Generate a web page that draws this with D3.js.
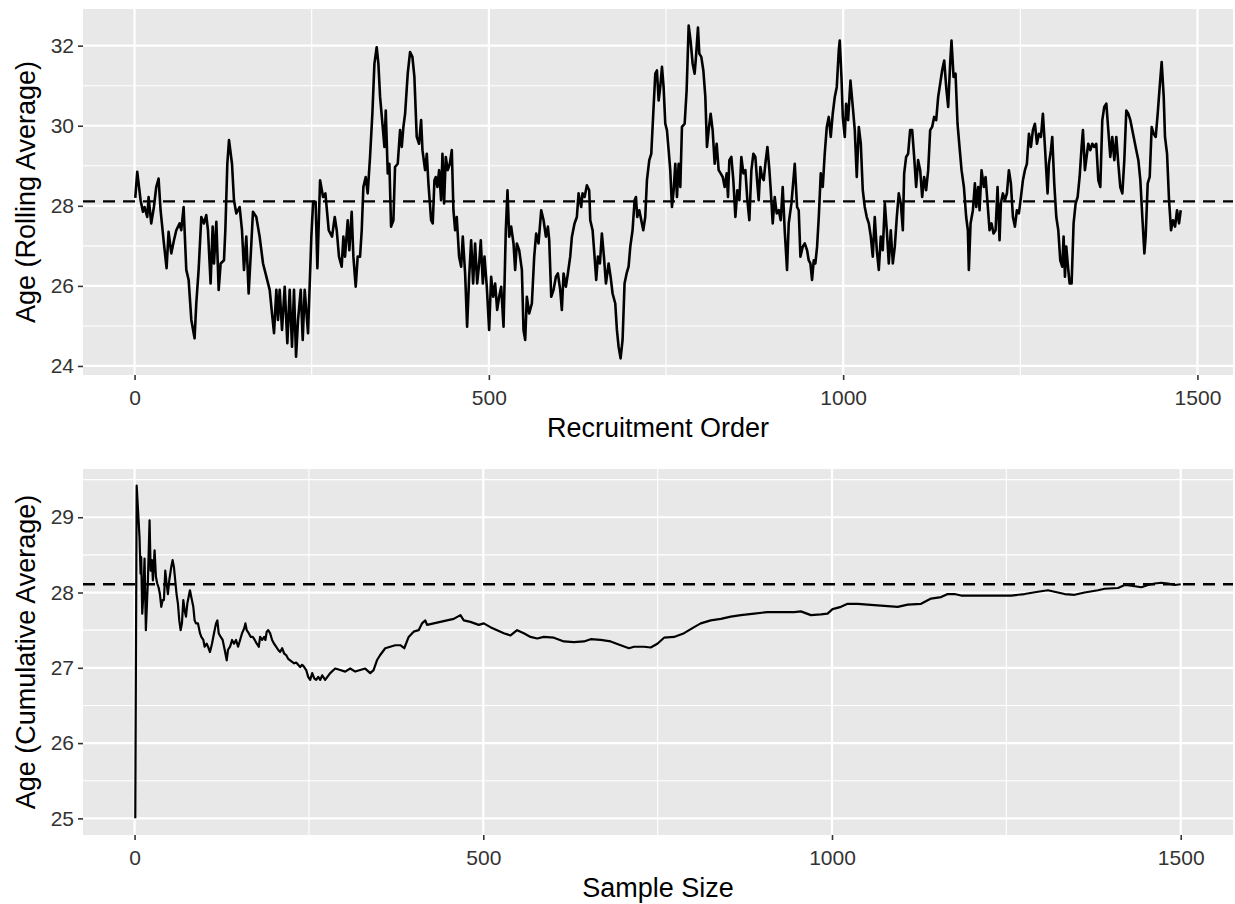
<!DOCTYPE html>
<html>
<head>
<meta charset="utf-8">
<script src="https://cdn.jsdelivr.net/npm/d3@7"></script>
<style>
  html, body { margin: 0; padding: 0; background: #fff; }
  svg { display: block; }
  text { font-family: "Liberation Sans", Arial, Helvetica, sans-serif; }
</style>
</head>
<body>
<svg id="chart" width="1235" height="904"></svg>
<script>
// ---------------- DATA ----------------
const populationMean = 28.11;

const xTickValues = [0, 500, 1000, 1500];
const xTickLabels = ["0", "500", "1000", "1500"];
const rollingYTicks = [24, 26, 28, 30, 32];
const cumulativeYTicks = [25, 26, 27, 28, 29];

const rollingTitleX = "Recruitment Order";
const rollingTitleY = "Age (Rolling Average)";
const cumulativeTitleX = "Sample Size";
const cumulativeTitleY = "Age (Cumulative Average)";

// [recruitment order, rolling-average age]
const rollingAverage = [
[1,28.2],[3.8,28.85],[8.5,28.14],[11.8,27.85],[14.1,27.97],[17.9,27.72],[19.8,28.22],[23.5,27.56],[27.3,27.97],[30.6,28.47],
[33.9,28.68],[36.7,27.89],[41.4,27.06],[45.2,26.44],[48.0,27.35],[51.8,26.81],[55.6,27.14],[58.9,27.39],[63.6,27.56],[65.9,27.39],
[69.2,27.97],[73.0,26.40],[76.3,26.15],[80.1,25.15],[84.7,24.69],[87.1,25.56],[90.4,26.40],[94.2,27.72],[97.9,27.56],[101.2,27.77],
[103.6,27.39],[107.3,26.06],[110.2,27.48],[112.1,26.56],[115.4,27.60],[118.7,25.90],[121.5,26.56],[126.2,26.64],[128.1,27.39],[130.9,29.05],
[133.3,29.64],[137.5,29.05],[140.3,28.14],[143.6,27.81],[148.3,27.97],[151.6,27.39],[154.4,26.40],[157.7,27.23],[161.0,25.81],[164.8,27.06],
[167.1,27.85],[171.8,27.72],[176.5,27.23],[181.3,26.56],[186.0,26.23],[190.7,25.90],[194.0,25.31],[196.8,24.82],[200.1,25.90],[202.4,25.15],
[204.8,25.90],[208.1,24.90],[211.9,25.98],[215.6,24.57],[218.9,25.90],[222.2,24.48],[225.0,25.90],[227.9,24.23],[230.7,25.15],[234.5,25.90],
[237.3,24.65],[240.1,25.90],[244.8,24.82],[249.5,27.23],[252.0,28.10],[255.5,28.10],[258.0,26.44],[261.8,28.64],[266.0,28.22],[269.3,28.31],
[274.0,27.39],[278.7,27.23],[282.5,27.72],[285.3,27.39],[288.5,26.73],[292.3,26.48],[294.7,27.23],[297.0,26.73],[300.8,27.64],[303.1,26.89],
[306.4,27.85],[308.8,26.73],[312.1,25.98],[314.9,26.73],[318.2,26.73],[320.6,27.39],[322.9,28.47],[326.2,28.72],[329.0,28.31],[332.3,29.22],
[335.6,30.30],[338.5,31.55],[341.7,31.96],[344.1,31.55],[346.5,30.72],[349.8,30.05],[352.6,29.47],[354.5,30.38],[357.3,28.81],[359.6,29.05],
[362.0,27.48],[365.3,27.64],[367.6,28.97],[371.4,29.05],[374.7,29.89],[377.1,29.47],[379.4,29.97],[381.8,30.30],[385.5,31.30],[388.8,31.84],
[392.1,31.72],[394.9,31.22],[398.2,29.72],[401.5,29.55],[404.4,30.14],[406.3,29.39],[410.0,28.89],[412.4,29.30],[414.7,28.56],[418.5,27.64],
[420.8,27.56],[423.2,28.64],[425.1,28.72],[427.4,28.47],[429.8,28.89],[432.6,28.14],[434.5,29.30],[436.8,28.06],[439.2,29.22],[442.0,28.89],
[444.9,29.05],[447.7,29.39],[450.0,27.89],[452.4,27.39],[454.7,27.72],[458.0,26.73],[460.9,26.48],[463.2,27.23],[466.5,26.31],[469.3,24.98],
[472.2,26.23],[475.0,27.14],[477.8,26.06],[480.6,27.06],[483.5,26.06],[486.3,26.56],[488.6,27.14],[491.5,26.06],[493.8,26.73],[497.1,25.98],
[500.4,24.90],[503.2,26.23],[506.1,25.73],[508.9,26.06],[511.7,25.40],[514.5,25.73],[517.4,25.98],[520.7,24.98],[523.9,27.39],[526.3,28.39],
[528.7,27.23],[531.5,27.48],[534.8,27.06],[537.1,26.40],[539.5,27.06],[542.8,26.89],[546.6,26.40],[548.9,24.90],[551.3,24.65],[553.6,25.73],
[556.9,25.31],[560.7,25.56],[564.0,26.73],[566.8,27.31],[570.1,27.06],[573.9,27.89],[577.2,27.64],[580.5,27.23],[583.3,27.48],[585.2,27.14],
[588.0,25.73],[591.3,25.90],[594.6,26.23],[597.4,26.31],[600.7,25.90],[603.0,25.40],[605.4,26.31],[608.7,25.98],[611.5,26.31],[614.8,26.73],
[617.2,27.23],[620.9,27.56],[624.2,27.72],[626.6,28.31],[630.3,27.97],[632.2,28.31],[635.1,28.22],[638.3,28.51],[641.6,28.39],[643.1,27.64],
[646.4,27.39],[649.2,26.73],[651.5,26.15],[653.9,26.73],[656.7,26.56],[659.5,27.31],[662.4,26.73],[665.2,26.06],[669.0,26.56],[671.8,26.23],
[674.6,25.81],[678.4,25.56],[680.7,24.90],[683.1,24.48],[685.9,24.19],[688.7,24.65],[691.5,26.06],[694.4,26.31],[697.2,26.48],[699.6,26.98],
[702.8,27.39],[705.7,28.14],[707.6,28.22],[709.4,27.72],[712.3,27.89],[715.1,27.64],[717.9,27.39],[720.7,27.72],[723.1,28.64],[726.4,29.14],
[729.2,29.30],[732.0,30.30],[734.9,31.30],[737.2,31.38],[739.6,30.63],[741.9,30.97],[744.3,31.47],[746.6,30.97],[749.0,30.05],[751.3,29.89],
[753.7,29.39],[756.0,28.89],[758.4,27.97],[760.8,28.39],[763.1,29.05],[765.5,28.22],[767.8,29.05],[770.2,28.47],[772.5,29.97],[776.3,30.05],
[779.1,30.88],[782.0,32.50],[784.8,32.10],[787.6,31.55],[790.4,31.30],[792.3,31.72],[795.1,32.45],[797.0,31.80],[799.8,31.72],[802.7,31.38],
[805.5,30.72],[807.8,29.47],[810.2,29.89],[813.0,30.30],[815.8,29.89],[818.7,29.05],[821.5,29.55],[824.3,28.89],[827.1,28.81],[830.0,28.72],
[832.8,28.47],[835.6,28.81],[837.5,28.22],[839.4,29.14],[842.2,29.22],[845.0,28.64],[847.9,27.72],[850.7,28.39],[853.5,28.14],[856.3,29.22],
[859.2,28.81],[862.0,28.89],[864.8,28.14],[867.6,27.64],[870.5,28.89],[873.3,29.30],[876.1,29.22],[878.5,28.64],[880.8,28.14],[883.2,28.97],
[885.5,28.72],[887.9,28.64],[890.2,29.05],[893.1,29.47],[895.9,28.89],[897.8,28.39],[900.6,27.56],[903.4,28.22],[906.2,27.81],[909.1,27.89],
[911.9,27.64],[914.7,28.47],[917.5,27.39],[920.8,26.40],[923.2,27.56],[927.0,28.06],[931.7,29.05],[935.0,27.97],[937.3,27.89],[939.7,26.73],
[943.0,26.98],[945.8,27.06],[949.1,26.89],[951.4,26.64],[953.8,26.56],[956.1,26.15],[958.5,26.64],[960.8,26.56],[963.2,26.98],[965.6,27.72],
[968.4,28.81],[971.2,28.47],[974.0,29.30],[976.9,29.97],[979.7,30.22],[982.5,29.72],[985.3,30.30],[988.2,30.72],[991.0,30.97],[993.8,31.88],
[995.2,32.13],[997.6,31.22],[999.5,30.22],[1002.3,29.72],[1004.2,30.55],[1007.0,30.14],[1010.3,31.13],[1013.6,30.47],[1016.4,29.89],[1019.2,28.72],
[1022.1,29.97],[1024.9,29.55],[1027.7,28.39],[1030.5,27.97],[1033.3,27.72],[1036.2,27.56],[1039.0,27.23],[1041.8,26.73],[1044.6,27.72],[1047.5,26.89],
[1050.3,26.40],[1053.1,27.23],[1055.9,26.89],[1058.8,28.06],[1061.6,27.39],[1064.4,26.56],[1067.2,27.39],[1070.1,26.56],[1072.9,26.98],[1075.7,27.72],
[1078.5,28.31],[1081.4,28.06],[1084.2,27.39],[1086.1,28.81],[1088.9,29.22],[1091.7,29.30],[1094.5,29.89],[1097.4,29.89],[1100.2,29.22],[1103.0,28.47],
[1105.8,29.14],[1108.7,28.89],[1111.5,28.22],[1114.3,28.72],[1117.1,28.39],[1120.0,28.89],[1122.8,29.89],[1125.6,29.97],[1128.4,30.22],[1131.3,30.14],
[1134.1,30.72],[1136.9,31.05],[1139.7,31.38],[1142.6,31.63],[1145.4,30.97],[1148.2,30.47],[1151.0,31.55],[1152.9,32.13],[1155.8,31.22],[1158.6,31.30],
[1161.4,30.05],[1164.2,29.47],[1167.1,28.89],[1170.4,28.47],[1173.6,27.72],[1176.0,27.39],[1177.4,26.40],[1179.8,27.56],[1183.1,27.89],[1185.9,28.56],
[1187.8,27.97],[1190.6,28.47],[1192.5,27.89],[1195.3,28.89],[1198.6,28.47],[1201.0,28.72],[1203.8,28.06],[1206.6,27.39],[1209.4,27.56],[1212.2,27.31],
[1215.1,27.39],[1217.9,28.47],[1220.7,27.14],[1222.6,28.06],[1225.4,28.31],[1228.3,28.14],[1231.1,28.31],[1233.9,28.89],[1236.7,28.56],[1239.6,27.72],
[1242.4,27.48],[1245.2,27.89],[1248.0,27.81],[1250.9,28.22],[1253.7,28.64],[1256.5,28.89],[1259.3,29.05],[1262.2,29.80],[1265.0,29.47],[1267.8,29.89],
[1270.6,30.05],[1273.5,29.55],[1276.3,29.80],[1279.1,29.72],[1281.9,30.30],[1284.8,29.47],[1286.6,28.89],[1288.5,28.31],[1290.4,29.05],[1293.2,29.39],
[1295.1,29.72],[1297.9,28.56],[1300.8,27.72],[1303.6,27.39],[1306.4,26.64],[1309.2,26.48],[1311.1,27.23],[1313.0,26.23],[1314.9,26.98],[1317.7,26.40],
[1319.6,26.06],[1322.4,26.06],[1325.2,27.56],[1328.1,28.06],[1330.9,28.22],[1333.7,28.72],[1336.5,29.47],[1338.4,29.89],[1341.2,28.89],[1344.1,29.30],
[1345.9,29.55],[1348.8,29.39],[1351.6,29.55],[1354.4,29.47],[1357.2,29.55],[1360.1,28.64],[1362.9,28.47],[1365.7,30.14],[1368.5,30.47],[1371.4,30.55],
[1374.2,29.89],[1377.0,29.22],[1379.8,29.72],[1382.7,29.14],[1385.5,29.72],[1388.3,29.05],[1391.1,28.47],[1394.0,28.31],[1396.8,29.14],[1399.6,30.38],
[1402.4,30.30],[1405.3,30.14],[1408.1,29.89],[1410.9,29.64],[1413.7,29.39],[1416.6,29.14],[1419.4,28.64],[1422.2,27.72],[1425.1,26.81],[1426.9,27.23],
[1429.8,28.56],[1432.6,28.72],[1435.4,29.97],[1438.2,29.80],[1441.1,29.72],[1443.9,30.30],[1446.7,30.97],[1449.5,31.59],[1452.4,30.72],[1454.2,29.72],
[1457.1,29.30],[1459.9,28.14],[1462.7,27.39],[1465.5,27.64],[1468.4,27.48],[1471.2,27.89],[1474.0,27.56],[1476.4,27.89]
];

// [sample size, cumulative-average age]
const cumulativeAverage = [
[1,25.00],[3,29.42],[7.1,28.73],[8.6,28.25],[9.5,28.47],[11.0,27.72],[12.4,27.94],[14.3,28.45],[16.2,27.50],[19.1,28.16],
[21.5,28.96],[23.0,28.29],[24.8,28.43],[26.3,28.16],[28.7,28.56],[30.6,28.21],[32.5,28.12],[34.4,28.07],[36.3,27.98],[38.3,27.81],
[40.2,27.90],[42.1,27.90],[44.0,28.29],[45.9,28.12],[47.8,27.98],[49.7,28.16],[52.6,28.34],[54.5,28.43],[56.4,28.34],[58.3,28.16],
[60.2,27.98],[62.2,27.85],[64.1,27.63],[66.0,27.50],[67.9,27.59],[69.9,27.90],[71.8,27.76],[73.7,27.68],[75.6,27.85],[77.5,27.94],
[79.4,28.03],[81.3,27.94],[84.2,27.81],[86.1,27.63],[88.0,27.59],[90.9,27.59],[93.8,27.46],[95.7,27.41],[98.6,27.37],[100.5,27.28],
[103.4,27.32],[105.3,27.28],[108.1,27.21],[111.0,27.32],[113.9,27.46],[116.8,27.59],[118.7,27.63],[120.6,27.46],[123.5,27.41],[126.3,27.37],
[129.2,27.24],[132.1,27.10],[134.0,27.24],[136.9,27.28],[139.8,27.37],[142.6,27.32],[145.5,27.37],[148.4,27.28],[151.3,27.37],[154.1,27.46],
[157.0,27.52],[158.9,27.59],[160.8,27.50],[163.7,27.46],[166.6,27.41],[169.5,27.41],[172.3,27.37],[175.2,27.32],[178.1,27.28],[180.0,27.41],
[182.9,27.37],[185.8,27.41],[187.6,27.37],[189.5,27.48],[191.5,27.50],[194.3,27.46],[197.2,27.37],[200.0,27.32],[202.9,27.28],[205.8,27.24],
[208.7,27.21],[211.6,27.26],[214.4,27.19],[217.3,27.17],[220.2,27.12],[223.1,27.10],[225.9,27.08],[228.8,27.06],[231.7,27.07],[234.6,27.04],
[237.4,27.01],[240.3,27.04],[243.2,27.01],[246.1,26.97],[248.9,26.88],[251.8,26.84],[254.7,26.93],[257.6,26.86],[260.4,26.84],[263.3,26.88],
[266.2,26.84],[269.0,26.90],[273.3,26.84],[280.5,26.93],[287.6,26.99],[294.8,26.97],[302.0,26.95],[309.2,26.99],[316.4,26.95],[323.5,26.97],
[330.7,26.99],[337.9,26.93],[342.7,26.97],[347.5,27.10],[352.2,27.17],[359.4,27.26],[366.6,27.28],[373.8,27.30],[381.0,27.30],[386.7,27.26],
[393.0,27.41],[400.1,27.48],[407.3,27.50],[412.1,27.59],[416.9,27.63],[419.3,27.57],[428.9,27.59],[438.4,27.61],[448.0,27.63],[457.6,27.65],
[467.2,27.70],[472.0,27.63],[481.5,27.61],[493.5,27.57],[500.7,27.59],[510.2,27.54],[519.8,27.50],[529.4,27.46],[539.0,27.43],[548.5,27.50],
[558.1,27.46],[567.7,27.41],[577.3,27.39],[586.8,27.41],[601.2,27.40],[615.6,27.35],[629.9,27.34],[644.3,27.35],[653.9,27.38],[668.2,27.37],
[682.6,27.35],[697.0,27.30],[708.9,27.26],[716.1,27.28],[730.5,27.28],[740.0,27.27],[749.6,27.32],[759.2,27.40],[773.5,27.41],[787.9,27.46],
[802.3,27.54],[811.8,27.59],[826.2,27.63],[840.6,27.65],[854.9,27.68],[869.3,27.70],[888.4,27.72],[907.6,27.74],[926.7,27.74],[945.9,27.74],
[955.4,27.75],[969.7,27.70],[984.1,27.71],[993.6,27.72],[1000.8,27.78],[1012.8,27.81],[1022.4,27.85],[1036.7,27.85],[1051.1,27.84],[1065.4,27.83],
[1079.8,27.82],[1094.2,27.81],[1108.5,27.84],[1127.7,27.85],[1142.0,27.92],[1156.4,27.94],[1166.0,27.98],[1175.5,27.98],[1185.1,27.96],[1199.5,27.96],
[1218.6,27.96],[1237.8,27.96],[1256.9,27.96],[1276.1,27.98],[1295.2,28.01],[1309.6,28.03],[1319.1,28.01],[1333.5,27.98],[1347.9,27.97],[1362.2,28.00],
[1381.4,28.03],[1390.9,28.05],[1410.1,28.06],[1419.7,28.10],[1429.3,28.09],[1443.6,28.07],[1453.2,28.10],[1462.8,28.12],[1472.3,28.13],[1481.9,28.12],
[1491.5,28.10],[1500,28.11]
];

// ---------------- DRAWING ----------------
const svg = d3.select("#chart");
svg.append("rect").attr("width", 1235).attr("height", 904).attr("fill", "#ffffff");

function expand(ext) {
  const pad = (ext[1] - ext[0]) * 0.05;
  return [ext[0] - pad, ext[1] + pad];
}

function drawPanel(cfg) {
  const { data, top, bottom, left, right, yTicks, xTitle, yTitle, lineWidth } = cfg;
  const x = d3.scaleLinear().domain(expand(d3.extent(data, d => d[0]))).range([left, right]);
  const y = d3.scaleLinear().domain(expand(d3.extent(data, d => d[1]))).range([bottom, top]);
  const g = svg.append("g");

  // panel background
  g.append("rect")
    .attr("x", left).attr("y", top)
    .attr("width", right - left).attr("height", bottom - top)
    .attr("fill", "#E8E8E8");

  // minor grid
  const yStep = yTicks[1] - yTicks[0];
  const yMinor = d3.range(Math.floor(y.domain()[0] / yStep) * yStep - yStep / 2, y.domain()[1], yStep)
    .filter(v => v > y.domain()[0] && v < y.domain()[1]);
  const xMinor = [-250, 250, 750, 1250, 1750].filter(v => v > x.domain()[0] && v < x.domain()[1]);

  g.selectAll(".ymin").data(yMinor).join("line")
    .attr("x1", left).attr("x2", right)
    .attr("y1", d => y(d)).attr("y2", d => y(d))
    .attr("stroke", "#ffffff").attr("stroke-width", 1.1);
  g.selectAll(".xmin").data(xMinor).join("line")
    .attr("y1", top).attr("y2", bottom)
    .attr("x1", d => x(d)).attr("x2", d => x(d))
    .attr("stroke", "#ffffff").attr("stroke-width", 1.1);

  // major grid
  g.selectAll(".ymaj").data(yTicks).join("line")
    .attr("x1", left).attr("x2", right)
    .attr("y1", d => y(d)).attr("y2", d => y(d))
    .attr("stroke", "#ffffff").attr("stroke-width", 2.2);
  g.selectAll(".xmaj").data(xTickValues).join("line")
    .attr("y1", top).attr("y2", bottom)
    .attr("x1", d => x(d)).attr("x2", d => x(d))
    .attr("stroke", "#ffffff").attr("stroke-width", 2.2);

  // series line
  const line = d3.line().x(d => x(d[0])).y(d => y(d[1]));
  g.append("path").datum(data)
    .attr("d", line)
    .attr("fill", "none")
    .attr("stroke", "#000")
    .attr("stroke-width", lineWidth)
    .attr("stroke-linejoin", "round");

  // mean reference line
  g.append("line")
    .attr("x1", left).attr("x2", right)
    .attr("y1", y(populationMean)).attr("y2", y(populationMean))
    .attr("stroke", "#000").attr("stroke-width", 2.3)
    .attr("stroke-dasharray", "12,8");

  // axes
  const yAxis = d3.axisLeft(y).tickValues(yTicks).tickSize(5).tickPadding(4).tickFormat(d3.format("d"));
  const ya = svg.append("g").attr("transform", `translate(${left},0)`).call(yAxis);
  const xAxis = d3.axisBottom(x).tickValues(xTickValues).tickSize(5).tickPadding(6)
    .tickFormat((d, i) => xTickLabels[i]);
  const xa = svg.append("g").attr("transform", `translate(0,${bottom})`).call(xAxis);
  [ya, xa].forEach(a => {
    a.select(".domain").remove();
    a.selectAll(".tick line").attr("stroke", "#333").attr("stroke-width", 1.6);
    a.selectAll(".tick text")
      .attr("fill", "#333")
      .style("font-size", "21px")
      .style("font-family", "'Liberation Sans', Arial, sans-serif");
  });
  xa.selectAll(".tick text").attr("dy", "0.9em");

  // titles
  svg.append("text")
    .attr("x", (left + right) / 2)
    .attr("y", bottom + 62)
    .attr("text-anchor", "middle")
    .style("font-size", "27px")
    .attr("fill", "#000")
    .text(xTitle);
  svg.append("text")
    .attr("transform", `translate(35,${(top + bottom) / 2}) rotate(-90)`)
    .attr("text-anchor", "middle")
    .style("font-size", "27px")
    .attr("fill", "#000")
    .text(yTitle);
}

drawPanel({
  data: rollingAverage, top: 9, bottom: 375, left: 83, right: 1233,
  yTicks: rollingYTicks, xTitle: rollingTitleX, yTitle: rollingTitleY, lineWidth: 2.6
});
drawPanel({
  data: cumulativeAverage, top: 469, bottom: 835, left: 83, right: 1233,
  yTicks: cumulativeYTicks, xTitle: cumulativeTitleX, yTitle: cumulativeTitleY, lineWidth: 2.2
});
</script>
</body>
</html>
